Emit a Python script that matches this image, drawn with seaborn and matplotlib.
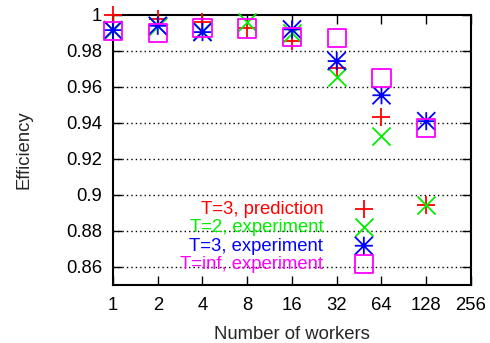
import numpy as np
import pandas as pd
import matplotlib
matplotlib.use("Agg")
import matplotlib.pyplot as plt
from matplotlib.path import Path
from matplotlib.ticker import FixedLocator, FixedFormatter
import seaborn as sns

workers = [1, 2, 4, 8, 16, 32, 64, 128]
pred_t3 = [1.000, 0.998, 0.996, 0.9925, 0.9854, 0.9703, 0.9436, 0.8942]
exp_t2 = [0.9916, 0.994, 0.991, 0.996, 0.990, 0.9656, 0.933, 0.8942]
exp_t3 = [0.9916, 0.994, 0.9905, np.nan, 0.992, 0.9744, 0.9554, 0.941]
exp_tinf = [0.991, 0.990, 0.993, 0.9925, 0.988, 0.987, 0.965, 0.9373]

labels = ["T=3, prediction", "T=2, experiment", "T=3, experiment", "T=inf, experiment"]
colors = ["#ff0000", "#00ee00", "#0000ff", "#ff00ff"]
xticks = [1, 2, 4, 8, 16, 32, 64, 128, 256]
yticks = [0.86, 0.88, 0.9, 0.92, 0.94, 0.96, 0.98, 1.0]
ytick_labels = ["0.86", "0.88", "0.9", "0.92", "0.94", "0.96", "0.98", "1"]

sns.set_style("ticks")
plt.rcParams["font.family"] = ["Liberation Sans", "DejaVu Sans"]
FS = 13.3
plt.rcParams["font.size"] = FS

fig = plt.figure(figsize=(4.9, 3.43), dpi=100)
ax = fig.add_axes([0.2306, 0.1691, 0.9612 - 0.2306, 0.9563 - 0.1691])

asterisk = Path(
    [(-0.5, 0), (0.5, 0), (0, -0.5), (0, 0.5), (-0.5, -0.5), (0.5, 0.5), (-0.5, 0.5), (0.5, -0.5)],
    [Path.MOVETO, Path.LINETO] * 4,
)

series = [pred_t3, exp_t2, exp_t3, exp_tinf]
markers = ["+", "x", asterisk, "s"]
msize = 13.0
for vals, lab, col, mk in zip(series, labels, colors, markers):
    df = pd.DataFrame({"workers": workers, "eff": vals}).dropna()
    kw = dict(s=msize ** 2, linewidth=1.3, clip_on=False, zorder=3)
    if mk in ("+", "x"):
        sns.scatterplot(data=df, x="workers", y="eff", marker=mk, color=col,
                        label=lab, ax=ax, **kw)
    else:
        sns.scatterplot(data=df, x="workers", y="eff", marker=mk, color=col,
                        facecolor="none", edgecolor=col, label=lab, ax=ax, **kw)

ax.set_xscale("log", base=2)
ax.set_xlim(1, 256)
ax.set_ylim(0.85, 1.0)
ax.xaxis.set_major_locator(FixedLocator(xticks))
ax.xaxis.set_major_formatter(FixedFormatter([str(v) for v in xticks]))
ax.xaxis.set_minor_locator(FixedLocator([]))
ax.yaxis.set_major_locator(FixedLocator(yticks))
ax.yaxis.set_major_formatter(FixedFormatter(ytick_labels))

ax.tick_params(axis="both", which="major", direction="in", length=6.5, width=1.0,
               top=True, right=True, labelsize=FS, colors="black")
ax.tick_params(axis="y", pad=8)
ax.tick_params(axis="x", pad=9)
for sp in ax.spines.values():
    sp.set_linewidth(1.5)
    sp.set_color("black")
    sp.set_visible(True)

for yv in yticks[:-1]:
    ax.axhline(yv, color="black", linestyle=(0, (1, 2.2)), linewidth=1.0, zorder=1)

ax.set_xlabel("Number of workers", fontsize=FS, labelpad=8)
ax.set_ylabel("Efficiency", fontsize=FS, labelpad=24)

leg = ax.legend(loc="center", bbox_to_anchor=(0.47, 0.178), frameon=False,
                markerfirst=False, handlelength=2.0, handletextpad=1.2,
                labelspacing=0.07, borderpad=0, fontsize=FS, scatterpoints=1)
for t, c in zip(leg.get_texts(), colors):
    t.set_color(c)

fig.savefig("out.png", dpi=100)
